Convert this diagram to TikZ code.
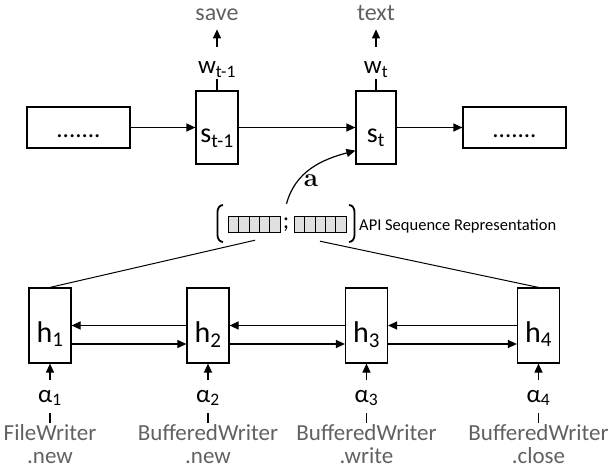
\documentclass[tikz,border=0pt]{standalone}
\usepackage{fontspec}
\setmainfont{Carlito}
\newfontfamily\lmfont{Latin Modern Roman}
\usepackage{xcolor}
\usepackage{tikz}
\usetikzlibrary{positioning,arrows.meta}

\newcommand{\fsz}[1]{\fontsize{#1}{#1}\selectfont}
\colorlet{wordgray}{black!62}

\begin{document}
\begin{tikzpicture}[x=1pt,y=-1pt,
  every node/.style={inner sep=1pt},
  ln/.style={line width=1.2pt},
  arr/.style={line width=1.2pt, -{Triangle[length=9pt,width=8pt]}},
  dotbox/.style={draw, ln, minimum width=103pt, minimum height=41pt, text height=21pt, text depth=0pt, font=\fsz{25}},
  sbox/.style={draw, ln, minimum width=42pt, minimum height=73pt, text height=33pt, text depth=2pt, font=\fsz{28}},
  hbox/.style={draw, ln, minimum width=42pt, minimum height=75pt, text height=35pt, text depth=2pt, font=\fsz{30}},
  sym/.style={font=\fsz{25}, anchor=base},
  word/.style={font=\fsz{24}, text=wordgray, anchor=base},
  call/.style={font=\fsz{23}, text=wordgray, align=center, anchor=north},
]
  \useasboundingbox (0,0) rectangle (608,473);

  % decoder states
  \node[dotbox] (dl) at (78.5,127.5) {.......};
  \node[sbox] (s1) at (217,127.5) {s\textsubscript{t-1}};
  \node[sbox, minimum width=40pt] (s2) at (376,127.5) {s\textsubscript{t}};
  \node[dotbox] (dr) at (514.5,127.5) {.......};
  \draw[arr] (dl) -- (s1);
  \draw[arr] (s1) -- (s2);
  \draw[arr] (s2) -- (dr);

  % generated words
  \node[sym] (w1) at (217,74) {w\textsubscript{t-1}};
  \node[sym] (w2) at (376,74) {w\textsubscript{t}};
  \node[word] (o1) at (217,21) {save};
  \node[word] (o2) at (376,21) {text};
  \draw[ln] (s1) -- (w1);
  \draw[ln] (s2) -- (w2);
  \draw[arr, shorten <=14pt, shorten >=7pt] (w1) -- (o1);
  \draw[arr, shorten <=14pt, shorten >=7pt] (w2) -- (o2);

  % API sequence representation
  \node[minimum width=141pt, minimum height=39pt] (rep) at (286.5,223.5) {};
  \draw[line width=1.8pt] (223,205) to[out=180,in=90] (217.5,212) -- (217.5,235) to[out=-90,in=180] (223,242);
  \draw[line width=1.8pt] (349,205) to[out=0,in=90] (354.5,212) -- (354.5,235) to[out=-90,in=0] (349,242);
  \foreach \i in {0,...,4} {
    \draw[fill=black!12, line width=1pt] (228.3+10.4*\i,217) rectangle +(10.4,16);
    \draw[fill=black!12, line width=1pt] (294.3+10.4*\i,217) rectangle +(10.4,16);
  }
  \node[font=\fsz{24}] (semi) at (286,225) {;};
  \node[font=\fsz{16.5}, anchor=west] (replbl) at (358,226.5) {API Sequence Representation};
  \draw[arr] (rep.north) to[out=75,in=195] ([yshift=14pt]s2.south west);
  \node[font=\fsz{26}] (ctx) at (311,181) {\lmfont\bfseries a};

  % encoder states
  \foreach \i/\x/\api in {1/50/FileWriter\\.new, 2/208/BufferedWriter\\.new,
                          3/366.5/BufferedWriter\\.write, 4/538.5/BufferedWriter\\.close} {
    \node[hbox] (h\i) at (\x,325.5) {h\textsubscript{\i}};
    \node[sym] (al\i) at (\x,402) {α\textsubscript{\i}};
    \node[call] (c\i) at (\x,423) {\api};
    \draw[arr, shorten <=8.5pt] (al\i) -- (h\i);
    \draw[ln, shorten >=6pt] (c\i) -- (al\i);
  }
  \foreach \i [count=\j from 2] in {1,2,3} {
    \draw[arr] (h\j) -- (h\i);
    \draw[arr] ([yshift=-18.5pt]h\i.east) -- ([yshift=-18.5pt]h\j.west);
  }
  \draw[line width=1pt] (h1.north) -- ([xshift=-31.5pt,yshift=3pt]rep.south);
  \draw[line width=1pt] (h4.north) -- ([xshift=33.5pt,yshift=2pt]rep.south);
\end{tikzpicture}
\end{document}
